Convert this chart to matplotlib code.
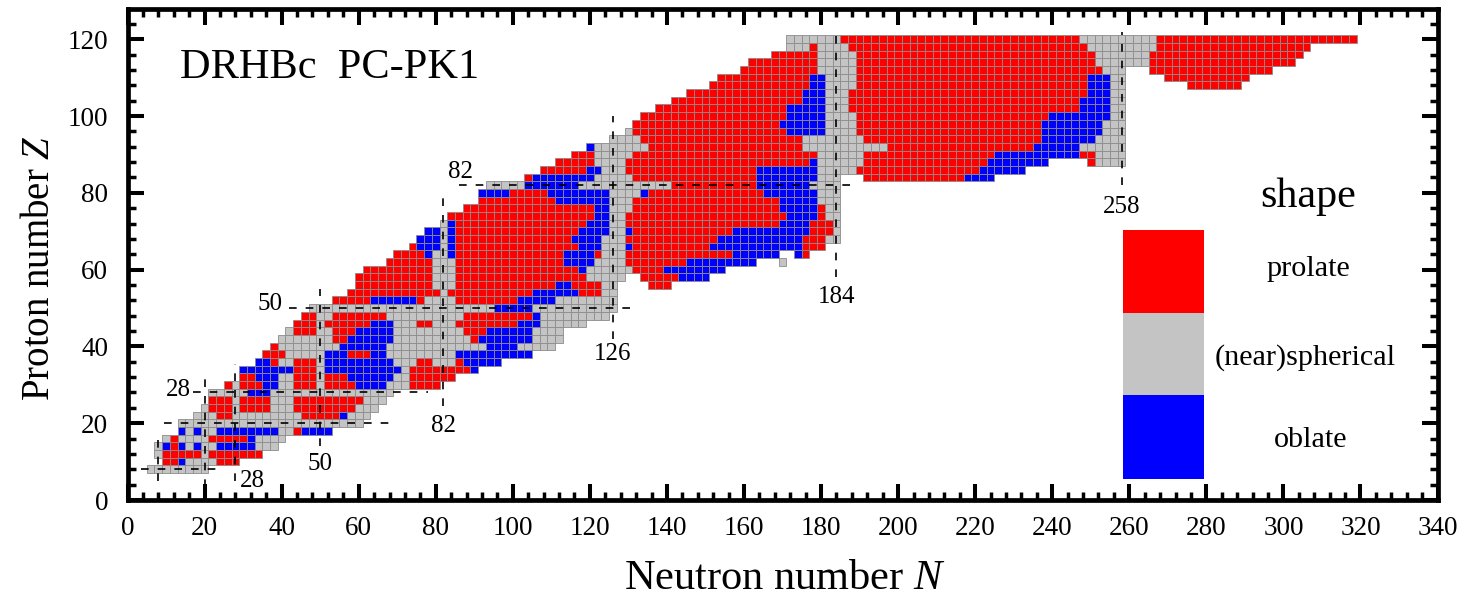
import matplotlib
matplotlib.use('Agg')
import matplotlib.pyplot as plt

plt.rcParams['font.family'] = ['Liberation Serif']
plt.rcParams['mathtext.fontset'] = 'custom'
plt.rcParams['mathtext.rm'] = 'Liberation Serif'
plt.rcParams['mathtext.it'] = 'Liberation Serif:italic'

# proton number of each row of the chart
row_z = list(range(8, 122, 2))

# per row: p = prolate, s = (near)spherical, b = oblate, then first-last N (even N only)
row_runs = [
	"s6-20",
	"p10-12 b14 s16-22 p24-28",
	"s8 p10-18 s20 p22-34",
	"s8 b10 p12 b14 s16 b18 s20-22 b24-32 s34-38",
	"s10 p12 s14-20 p22-30 b32 s34-40",
	"b14 s16 b18 s20-22 b24-38 s40-42 p44 b46-52",
	"s14-60",
	"s18-22 p24-26 s28-44 p46-54 b56 s58-62",
	"s20 p22-26 s28 p30-36 s38-42 p44-58 s60-64",
	"p22-26 s28 p30-36 s38-42 p44-60 s62-66",
	"s22-30 b32-36 s38-68",  # Z = 28
	"p26 s28 p30-34 b36-38 s40-42 p44-48 s50 p52-58 b60-66 s68-72 p74-80",
	"p30-32 b34-38 s40-42 p44-48 s50 p52-56 b58-68 s70-72 p74-84",
	"b30-42 p44-48 s50 b52-70 s72 p74-88 b90",
	"b34-36 p38 s40-42 p44-48 s50 b52-68 s70-74 p76-78 s80-84 p86 b88-96",
	"p36-40 s42-50 b52-56 p58-62 b64-66 s68-84 b86-104",
	"p38 s40-54 b56-66 s68-92 b94-100 s102-110",
	"s40-52 p54-56 b58-68 s70-88 p90 b92-104 s106-112",
	"s42 p44-48 s50-52 p54-58 b60-68 s70-86 p88-92 b94-104 s106-112",
	"p44-48 s50 p52-62 b64-68 s70-74 p76-78 s80-84 p86-100 b102-106 s108-118",
	"p46-48 s50-52 p54-66 s68-86 p88-104 b106 s108-124",
	"s48-94 b96-104 s106-126",  # Z = 50
	"p54-62 b64-74 p76 s78-84 p86-100 b102-110 s112-126",
	"p58-80 s82 p84-104 b106-116 p118-122 s124-126",
	"p60-78 s80-84 p86-110 b112-114 p116-122 s124-126 p136-140",
	"p60-78 s80-84 p86-118 s120-128 p134-142 b144-150",
	"p62-78 s80-84 p86-116 b118 s120-130 p132-138 b140-154",
	"p68-78 s80-84 p86-112 b114-120 s122-128 p130-144 b146-162 s170",
	"p70-76 b78 s80-82 b84 p86-112 b114-120 p122 s124-128 p130-156 b158-168 b174 p176",
	"p74 b76-80 s82 b84 p86-116 b118-122 s124-128 b130 p132-150 b152-174 p176-180",
	"b76-80 s82 b84 p86-114 b116-122 s124-128 p130-152 b154-174 p176-180 s182-184",
	"b78-80 s82 b84 p86-116 b118-124 s126-128 b130 p132-156 b158-176 p178-182 s184",
	"s82 b84 p86-118 b120-124 s126-128 p130-168 b170-176 p178-182 s184",
	"p84-120 b122-124 s126-128 p130-170 b172-178 p180 s182-184",
	"p88-120 b122-124 s126-130 p132-168 b170-178 p180 s182-184",
	"p92-110 b112-124 s126-130 p132-168 b170-178 s180-184",
	"b92-98 p100-108 b110-124 s126-132 b134 p136-164 b166-178 s180-184",
	"s94-102 b104-116 s118-140 p142-162 b164-176 s178-184",  # Z = 82
	"p104 b106-120 s122-130 p132-162 b164-178 s180-184 p192-216 b218-224",
	"p108-118 b120-122 s124-128 p130-162 b164-178 s180-188 p190-220 b222-232",
	"p112-120 s122-128 p130-176 b178 s180-190 p192-222 b224-238 p250 s252-258",
	"p116-120 s122-130 p132-178 s180-190 p192-224 b226-246 p248-250 s252-258",
	"b120 s122-134 p136-174 s176-196 p198-234 b236-246 s248-258",
	"s126-132 p134-174 s176-190 p192-236 b238-250 s252-258",
	"s130 p132-170 b172-180 s182-188 p190-236 b238-252 s254-258",
	"p132-168 b170-180 s182-188 p190-236 b238-252 s254-258",
	"p134-170 b172-180 s182-188 p190-238 b240-254 s256-258",
	"p138-170 b172-180 s182-186 p188-246 b248-254 s256-258",
	"p142-174 b176-180 s182-186 p188-246 b248-254 s256-258",
	"p146-174 b176-180 s182-186 p188-248 b250-254 s256-258",
	"p152-176 b178-180 s182-188 p190-248 b250-254 s256-258 p276-288",
	"p154-176 b178-180 s182-188 p190-248 b250-254 s256-258 p270-290",
	"p160-178 s180-188 p190-252 s254-258 p266-296",
	"p162-178 s180-188 p190-250 s252-264 p266-302",
	"p168-178 s180-188 p190-250 s252-264 p266-304",
	"s172-176 p178 s180-186 p188-248 s250-266 p268-306",
	"s172-184 p186-246 s248-266 p268-318",
]

shape_colors = {'p': '#ff0000', 's': '#c4c4c4', 'b': '#0000ff'}

# magic numbers, dashed guide lines
v_magic = [8, 20, 28, 50, 82, 126, 184, 258]
v_from = [5, 3.5, 5, 14, 24.5, 42, 58, 82]
v_to = [17.5, 32, 35.5, 55, 79, 100, 123, 122]
h_magic = [8, 20, 28, 50, 82]
h_from = [3.5, 9.5, 17, 42, 86]
h_to = [25, 68, 78, 132, 189]

legend_names = ['prolate', '(near)spherical', 'oblate']
legend_keys = ['p', 's', 'b']
legend_bottoms = [48.8, 27.3, 5.5]
legend_tops = [70.4, 48.8, 27.3]

W, H = 1461, 595


def main():
	fig = plt.figure(figsize=(W / 100, H / 100), dpi=100)
	ax = fig.add_axes([127.5 / W, 1 - 500 / H, 1310 / W, 491.5 / H])

	xs = {'p': [], 's': [], 'b': []}
	ys = {'p': [], 's': [], 'b': []}
	for z, runs in zip(row_z, row_runs):
		for run in runs.split():
			ends = run[1:].split('-')
			first, last = int(ends[0]), int(ends[-1])
			for n in range(first, last + 1, 2):
				xs[run[0]].append(n)
				ys[run[0]].append(z - 1)

	for key in ['s', 'p', 'b']:
		ax.bar(xs[key], 2, width=2, bottom=ys[key], color=shape_colors[key],
			edgecolor='#8c8c8c', linewidth=0.6, zorder=2)

	for n, a, b in zip(v_magic, v_from, v_to):
		ax.plot([n, n], [a, b], color='k', lw=1.2, ls=(0, (4.6, 5.4)), zorder=3)
	for z, a, b in zip(h_magic, h_from, h_to):
		ax.plot([a, b], [z, z], color='k', lw=1.2, ls=(0, (4.6, 5.4)), zorder=3)

	# legend block
	for key, low, high in zip(legend_keys, legend_bottoms, legend_tops):
		ax.bar(268.8, high - low, width=21, bottom=low, color=shape_colors[key], linewidth=0, zorder=2)
	ax.text(306.5, 60.2, legend_names[0], fontsize=21.7, ha='center', va='center')
	ax.text(305.7, 37.1, legend_names[1], fontsize=21.7, ha='center', va='center')
	ax.text(307.2, 15.7, legend_names[2], fontsize=21.7, ha='center', va='center')
	ax.text(306.4, 78.9, 'shape', fontsize=30.3, ha='center', va='center')

	ax.text(13.6, 112.5, 'DRHBc  PC-PK1', fontsize=30.5, ha='left', va='center')

	# labels of the magic numbers
	ax.text(13.1, 28.7, '28', fontsize=18, ha='center', va='center')
	ax.text(37, 51, '50', fontsize=18, ha='center', va='center')
	ax.text(86.4, 85.5, '82', fontsize=18, ha='center', va='center')
	ax.text(32.3, 5, '28', fontsize=18, ha='center', va='center')
	ax.text(50, 9.4, '50', fontsize=18, ha='center', va='center')
	ax.text(82, 19.3, '82', fontsize=18, ha='center', va='center')
	ax.text(126, 38, '126', fontsize=18, ha='center', va='center')
	ax.text(184, 52.9, '184', fontsize=18, ha='center', va='center')
	ax.text(258, 76.3, '258', fontsize=18, ha='center', va='center')

	ax.set_xlim(0, 340)
	ax.set_ylim(0, 128)
	ax.set_xticks(range(0, 341, 20))
	ax.set_xticks(range(0, 341, 4), minor=True)
	ax.set_yticks(range(0, 121, 20))
	ax.set_yticks(range(0, 128, 4), minor=True)
	ax.tick_params(which='major', direction='in', top=True, right=True, length=11.5, width=2.9,
		labelsize=19.5)
	ax.tick_params(axis='x', which='major', pad=11.5)
	ax.tick_params(axis='y', which='major', pad=14)
	ax.tick_params(which='minor', direction='in', top=True, right=True, length=6, width=2.5)
	for spine in ax.spines.values():
		spine.set_linewidth(3.4)

	ax.set_xlabel('Neutron number $\\mathit{N}$', fontsize=30.5, x=0.502, labelpad=13)
	ax.set_ylabel('Proton number $\\mathit{Z}$', fontsize=28, y=0.472, labelpad=7)

	fig.savefig('out.png', dpi=100)


if __name__ == '__main__':
	main()
